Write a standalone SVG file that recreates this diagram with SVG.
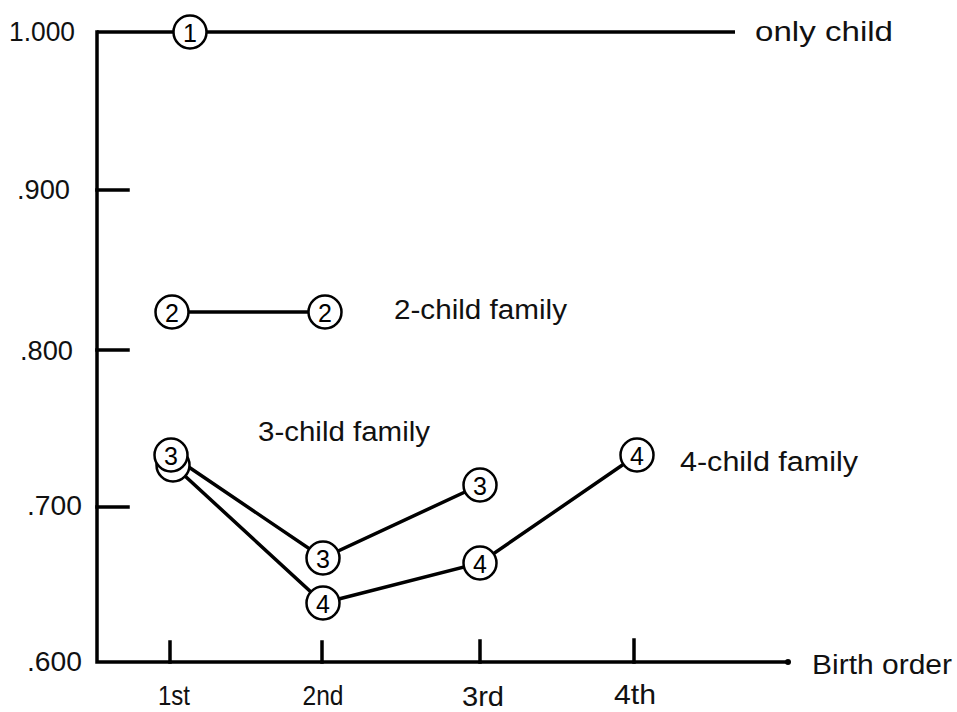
<svg xmlns="http://www.w3.org/2000/svg" width="957" height="712" viewBox="0 0 957 712">
<style>
  .ax{stroke:#000;stroke-width:3.5;fill:none;stroke-linecap:square}
  .ln{stroke:#000;stroke-width:3.5;fill:none}
  .nd circle{fill:#fff;stroke:#000;stroke-width:2.5}
  .nd text{font-family:"Liberation Sans",Arial,sans-serif;font-size:25px;text-anchor:middle;dominant-baseline:central;fill:#000}
  .lb{font-family:"Liberation Sans",Arial,sans-serif;font-size:27px;fill:#111;dominant-baseline:central}
  .xa{font-size:28px}
  .yl{text-anchor:end}
  .xl{text-anchor:middle}
</style>
<rect width="957" height="712" fill="#fff"/>
<g id="axes">
  <path class="ax" d="M97 32 V662 H788"/>
  <path class="ax" d="M97 190 H128 M97 350 H128 M97 507 H128"/>
  <path class="ax" d="M170 662 V642 M322 662 V642 M480 662 V641 M634 662 V640"/>
  <circle cx="788" cy="662" r="3" fill="#000"/>
  <text class="lb yl" x="75" y="32" textLength="66" lengthAdjust="spacingAndGlyphs">1.000</text>
  <text class="lb yl" x="70" y="190" textLength="53" lengthAdjust="spacingAndGlyphs">.900</text>
  <text class="lb yl" x="73" y="351" textLength="53" lengthAdjust="spacingAndGlyphs">.800</text>
  <text class="lb yl" x="82" y="506" textLength="55" lengthAdjust="spacingAndGlyphs">.700</text>
  <text class="lb yl" x="82" y="662" textLength="55" lengthAdjust="spacingAndGlyphs">.600</text>
  <text class="lb xa xl" x="174" y="695" textLength="32" lengthAdjust="spacingAndGlyphs">1st</text>
  <text class="lb xa xl" x="323" y="695" textLength="41" lengthAdjust="spacingAndGlyphs">2nd</text>
  <text class="lb xa xl" x="483" y="696" textLength="42" lengthAdjust="spacingAndGlyphs">3rd</text>
  <text class="lb xa xl" x="635" y="694" textLength="42" lengthAdjust="spacingAndGlyphs">4th</text>
  <text class="lb" x="812" y="665" textLength="140" lengthAdjust="spacingAndGlyphs">Birth order</text>
</g>
<g id="connectors">
  <path class="ln" d="M97 32 H735"/>
  <path class="ln" d="M172 312 H325"/>
  <path class="ln" d="M171 455 L323 558 L480 485"/>
  <path class="ln" d="M173 465 L323 603 L480 563 L637 455"/>
</g>
<g id="labels">
  <text class="lb" x="755" y="32" textLength="138" lengthAdjust="spacingAndGlyphs">only child</text>
  <text class="lb" x="394" y="310" textLength="173" lengthAdjust="spacingAndGlyphs">2-child family</text>
  <text class="lb" x="258" y="432" textLength="172" lengthAdjust="spacingAndGlyphs">3-child family</text>
  <text class="lb" x="680" y="462" textLength="178" lengthAdjust="spacingAndGlyphs">4-child family</text>
</g>
<g id="n1" class="nd"><circle cx="190" cy="32" r="16.5"/><text x="190" y="33">1</text></g>
<g id="n2a" class="nd"><circle cx="172" cy="312" r="16.5"/><text x="172" y="313">2</text></g>
<g id="n2b" class="nd"><circle cx="325" cy="312" r="16.5"/><text x="325" y="313">2</text></g>
<g id="n4a" class="nd"><circle cx="173" cy="465" r="16.5"/></g>
<g id="n3a" class="nd"><circle cx="171" cy="455" r="16.5"/><text x="171" y="456">3</text></g>
<g id="n3b" class="nd"><circle cx="323" cy="558" r="16.5"/><text x="323" y="559">3</text></g>
<g id="n3c" class="nd"><circle cx="480" cy="485" r="16.5"/><text x="480" y="486">3</text></g>
<g id="n4b" class="nd"><circle cx="323" cy="603" r="16.5"/><text x="323" y="604">4</text></g>
<g id="n4c" class="nd"><circle cx="480" cy="563" r="16.5"/><text x="480" y="564">4</text></g>
<g id="n4d" class="nd"><circle cx="637" cy="455" r="16.5"/><text x="637" y="456">4</text></g>
</svg>
